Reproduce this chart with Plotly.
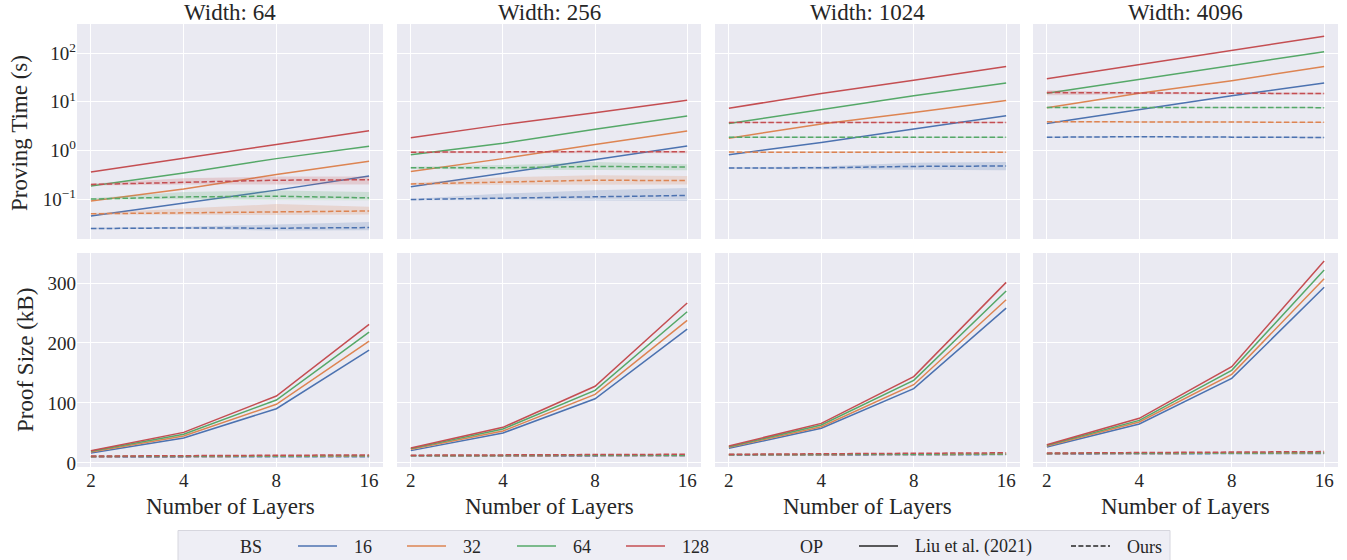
import math
import plotly.graph_objects as go

# ---------------- data ----------------
layers = [2, 4, 8, 16]
widths = [64, 256, 1024, 4096]
batch_sizes = [16, 32, 64, 128]
colors = {16: "#4C72B0", 32: "#DD8452", 64: "#55A868", 128: "#C44E52"}
legend_methods = ["Liu et al. (2021)", "Ours"]

# Proving time (s), Liu et al. (2021)
time_liu = {
    64:   {16: [0.045, 0.084, 0.153, 0.30], 32: [0.091, 0.162, 0.32, 0.60],
           64: [0.187, 0.344, 0.68, 1.22], 128: [0.36, 0.68, 1.33, 2.55]},
    256:  {16: [0.179, 0.344, 0.645, 1.24], 32: [0.37, 0.68, 1.33, 2.52],
           64: [0.82, 1.41, 2.72, 5.1], 128: [1.82, 3.4, 5.97, 10.8]},
    1024: {16: [0.82, 1.46, 2.77, 5.2], 32: [1.79, 3.5, 6.05, 10.6],
           64: [3.6, 7.0, 13.3, 24.4], 128: [7.4, 14.8, 27.7, 53.5]},
    4096: {16: [3.6, 6.9, 13.3, 24.4], 32: [7.55, 15.0, 27.0, 53.5],
           64: [15.0, 29.0, 56.0, 107.0], 128: [29.9, 58.7, 113.0, 224.0]},
}
# Proving time (s), Ours (mean)
time_ours = {
    64:   {16: [0.0248, 0.0256, 0.0252, 0.026], 32: [0.050, 0.0525, 0.056, 0.057],
           64: [0.100, 0.111, 0.115, 0.106], 128: [0.20, 0.225, 0.245, 0.25]},
    256:  {16: [0.098, 0.105, 0.111, 0.119], 32: [0.205, 0.222, 0.245, 0.24],
           64: [0.44, 0.44, 0.47, 0.455], 128: [0.92, 0.95, 0.95, 0.94]},
    1024: {16: [0.435, 0.44, 0.47, 0.48], 32: [0.925, 0.925, 0.925, 0.92],
           64: [1.87, 1.87, 1.87, 1.86], 128: [3.78, 3.8, 3.8, 3.78]},
    4096: {16: [1.87, 1.92, 1.88, 1.85], 32: [3.9, 3.85, 3.85, 3.8],
           64: [7.65, 7.6, 7.6, 7.6], 128: [15.5, 15.0, 15.0, 14.8]},
}
# Proving time (s), Ours: lower / upper of shaded band
time_ours_lo = {
    64:   {16: [0.0240, 0.0245, 0.0225, 0.023], 32: [0.048, 0.047, 0.047, 0.048],
           64: [0.097, 0.095, 0.095, 0.095], 128: [0.19, 0.20, 0.20, 0.20]},
    256:  {16: [0.095, 0.096, 0.095, 0.091], 32: [0.195, 0.20, 0.20, 0.20],
           64: [0.42, 0.40, 0.39, 0.39], 128: [0.88, 0.89, 0.89, 0.88]},
    1024: {16: [0.42, 0.42, 0.40, 0.39], 32: [0.90, 0.90, 0.90, 0.89],
           64: [1.81, 1.81, 1.81, 1.80], 128: [3.66, 3.68, 3.68, 3.66]},
    4096: {16: [1.81, 1.86, 1.82, 1.79], 32: [3.78, 3.73, 3.73, 3.68],
           64: [7.40, 7.37, 7.37, 7.37], 128: [13.7, 14.3, 14.3, 14.2]},
}
time_ours_hi = {
    64:   {16: [0.0258, 0.027, 0.030, 0.034], 32: [0.052, 0.064, 0.079, 0.070],
           64: [0.104, 0.14, 0.15, 0.14], 128: [0.21, 0.27, 0.29, 0.29]},
    256:  {16: [0.101, 0.13, 0.153, 0.17], 32: [0.215, 0.28, 0.31, 0.30],
           64: [0.46, 0.50, 0.58, 0.52], 128: [0.96, 1.0, 1.0, 1.0]},
    1024: {16: [0.45, 0.47, 0.56, 0.58], 32: [0.95, 0.95, 0.95, 0.95],
           64: [1.93, 1.93, 1.93, 1.92], 128: [3.90, 3.92, 3.92, 3.90]},
    4096: {16: [1.93, 1.98, 1.94, 1.91], 32: [4.02, 3.97, 3.97, 3.92],
           64: [7.90, 7.83, 7.83, 7.83], 128: [17.3, 15.7, 15.7, 15.4]},
}
# Proof size (kB)
size_liu = {
    64:   {16: [16.7, 41.7, 90.5, 188.0], 32: [18.3, 45.0, 97.8, 203.0],
           64: [19.4, 47.8, 105.0, 218.0], 128: [20.5, 51.0, 111.7, 231.0]},
    256:  {16: [20.6, 50.0, 107.0, 223.0], 32: [22.8, 53.3, 114.4, 237.8],
           64: [23.9, 56.7, 121.0, 252.0], 128: [25.0, 59.4, 127.8, 266.7]},
    1024: {16: [24.4, 57.8, 124.0, 258.0], 32: [26.0, 60.5, 130.5, 272.0],
           64: [27.2, 63.3, 137.8, 286.7], 128: [28.3, 66.0, 144.0, 301.0]},
    4096: {16: [26.7, 65.0, 141.0, 292.8], 32: [28.3, 68.3, 147.8, 307.0],
           64: [29.4, 71.0, 154.4, 321.7], 128: [30.5, 74.4, 160.5, 336.7]},
}
size_ours = {
    64:   {16: [10.0, 10.0, 10.5, 10.5], 32: [10.5, 11.0, 11.0, 11.5],
           64: [11.0, 11.5, 11.5, 12.0], 128: [11.5, 12.0, 12.5, 13.5]},
    256:  {16: [11.5, 12.0, 12.0, 12.0], 32: [12.0, 12.5, 12.5, 12.5],
           64: [12.5, 13.0, 13.0, 13.0], 128: [13.0, 13.5, 13.5, 14.5]},
    1024: {16: [13.0, 13.5, 13.5, 14.0], 32: [13.5, 14.0, 14.0, 14.5],
           64: [14.0, 14.5, 14.5, 15.0], 128: [14.5, 15.0, 15.5, 17.0]},
    4096: {16: [15.0, 15.5, 15.5, 16.0], 32: [15.5, 16.0, 16.0, 16.5],
           64: [16.0, 16.5, 16.5, 17.0], 128: [16.5, 17.0, 17.5, 19.0]},
}

# ---------------- style / layout ----------------
W, H = 1347, 560
FONT = "Liberation Serif"
TXT = "#262626"
BG = "#EAEAF2"
col_px = [(77, 383), (397, 701), (715, 1020), (1033, 1338)]
top_px = (24, 239)
bot_px = (253, 467)


def xdom(c):
    return [col_px[c][0] / W, col_px[c][1] / W]


def ydom(r):
    a, b = r
    return [1 - b / H, 1 - a / H]


def px(x):
    return x / W


def py(y):
    return 1 - y / H


def rgba(hexc, a):
    h = hexc.lstrip("#")
    return "rgba(%d,%d,%d,%s)" % (int(h[0:2], 16), int(h[2:4], 16), int(h[4:6], 16), a)


DASH = "5.5px,2.4px"
fig = go.Figure()

for c, w in enumerate(widths):
    xt = "x%d" % (c + 1) if c > 0 else "x"
    xb = "x%d" % (c + 5)
    yt = "y%d" % (c + 1) if c > 0 else "y"
    yb = "y%d" % (c + 5)
    for bs in batch_sizes:
        col = colors[bs]
        lo = time_ours_lo[w][bs]
        hi = time_ours_hi[w][bs]
        fig.add_trace(go.Scatter(
            x=layers + layers[::-1], y=hi + lo[::-1], xaxis=xt, yaxis=yt,
            fill="toself", fillcolor=rgba(col, 0.2), line=dict(width=0),
            mode="lines", showlegend=False, hoverinfo="skip"))
        fig.add_trace(go.Scatter(
            x=layers, y=time_liu[w][bs], xaxis=xt, yaxis=yt, mode="lines",
            line=dict(color=col, width=1.5), showlegend=False))
        fig.add_trace(go.Scatter(
            x=layers, y=time_ours[w][bs], xaxis=xt, yaxis=yt, mode="lines",
            line=dict(color=col, width=1.5, dash=DASH), showlegend=False))
        fig.add_trace(go.Scatter(
            x=layers, y=size_liu[w][bs], xaxis=xb, yaxis=yb, mode="lines",
            line=dict(color=col, width=1.5), showlegend=False))
        fig.add_trace(go.Scatter(
            x=layers, y=size_ours[w][bs], xaxis=xb, yaxis=yb, mode="lines",
            line=dict(color=col, width=1.5, dash=DASH), showlegend=False))

xrange_log = [0.85 * math.log10(2), 4.15 * math.log10(2)]
layout = dict(
    width=W, height=H,
    margin=dict(l=0, r=0, t=0, b=0),
    paper_bgcolor="white", plot_bgcolor=BG,
    font=dict(family=FONT, color=TXT, size=19),
    showlegend=False,
)

annotations = []
shapes = []
for c, w in enumerate(widths):
    sfx_t = "" if c == 0 else str(c + 1)
    sfx_b = str(c + 5)
    common_x = dict(type="log", range=xrange_log, tickvals=layers,
                    ticktext=[str(v) for v in layers], showgrid=True, gridcolor="white",
                    gridwidth=1, zeroline=False, showline=False, ticks="",
                    automargin=False)
    layout["xaxis" + sfx_t] = dict(common_x, domain=xdom(c), anchor="y" + sfx_t,
                                   showticklabels=False)
    layout["xaxis" + sfx_b] = dict(common_x, domain=xdom(c), anchor="y" + sfx_b,
                                   showticklabels=True, tickfont=dict(size=19))
    layout["yaxis" + sfx_t] = dict(type="log", range=[-1.82, 2.6], domain=ydom(top_px),
                                   anchor="x" + sfx_t, tickvals=[0.1, 1, 10, 100],
                                   ticktext=["10<sup>\u22121</sup>", "10<sup>0</sup>",
                                             "10<sup>1</sup>", "10<sup>2</sup>"],
                                   showticklabels=(c == 0), gridcolor="white", gridwidth=1,
                                   zeroline=False, showline=False, ticks="",
                                   tickfont=dict(size=19), automargin=False)
    layout["yaxis" + sfx_b] = dict(range=[-6.7, 350], domain=ydom(bot_px),
                                   anchor="x" + sfx_b, tickvals=[0, 100, 200, 300],
                                   showticklabels=(c == 0), gridcolor="white", gridwidth=1,
                                   zeroline=False, showline=False, ticks="",
                                   tickfont=dict(size=19), automargin=False)
    cx = (col_px[c][0] + col_px[c][1]) / 2 / W
    annotations.append(dict(text="Width: %d" % w, x=cx, y=py(12), xref="paper",
                            yref="paper", showarrow=False, xanchor="center",
                            yanchor="middle", font=dict(size=23, family=FONT, color=TXT)))
    annotations.append(dict(text="Number of Layers", x=cx, y=py(506), xref="paper",
                            yref="paper", showarrow=False, xanchor="center",
                            yanchor="middle", font=dict(size=23, family=FONT, color=TXT)))

annotations.append(dict(text="Proving Time (s)", x=px(19), y=py(133), xref="paper",
                        yref="paper", showarrow=False, textangle=-90, xanchor="center",
                        yanchor="middle", font=dict(size=23, family=FONT, color=TXT)))
annotations.append(dict(text="Proof Size (kB)", x=px(25), y=py(360), xref="paper",
                        yref="paper", showarrow=False, textangle=-90, xanchor="center",
                        yanchor="middle", font=dict(size=23, family=FONT, color=TXT)))

# ---- manual legend (bottom) ----
shapes.append(dict(type="rect", xref="paper", yref="paper", x0=px(178), x1=px(1170),
                   y0=py(575), y1=py(530.5), fillcolor="rgba(234,234,242,0.8)",
                   line=dict(color="#d6d6de", width=1), layer="above"))
LEG_Y = 546
LEG_TY = 546.5
leg_font = dict(size=18, family=FONT, color=TXT)
annotations.append(dict(text="BS", x=px(238), y=py(LEG_TY), xref="paper", yref="paper",
                        showarrow=False, xanchor="left", yanchor="middle", font=leg_font))
handle_x = [298, 407, 517, 626]
for i, bs in enumerate(batch_sizes):
    x0 = handle_x[i]
    shapes.append(dict(type="line", xref="paper", yref="paper", x0=px(x0), x1=px(x0 + 39),
                       y0=py(LEG_Y), y1=py(LEG_Y), line=dict(color=colors[bs], width=1.5),
                       layer="above"))
    annotations.append(dict(text=str(bs), x=px(x0 + 54), y=py(LEG_TY), xref="paper",
                            yref="paper", showarrow=False, xanchor="left",
                            yanchor="middle", font=leg_font))
annotations.append(dict(text="OP", x=px(798), y=py(LEG_TY), xref="paper", yref="paper",
                        showarrow=False, xanchor="left", yanchor="middle", font=leg_font))
method_handle_x = [859, 1071]
method_dash = ["solid", "5px,2.4px"]
for i, name in enumerate(legend_methods):
    x0 = method_handle_x[i]
    shapes.append(dict(type="line", xref="paper", yref="paper", x0=px(x0), x1=px(x0 + 39),
                       y0=py(LEG_Y), y1=py(LEG_Y),
                       line=dict(color="#262626", width=1.5, dash=method_dash[i]),
                       layer="above"))
    annotations.append(dict(text=name, x=px(x0 + 54), y=py(LEG_TY), xref="paper",
                            yref="paper", showarrow=False, xanchor="left",
                            yanchor="middle", font=leg_font))

layout["annotations"] = annotations
layout["shapes"] = shapes
fig.update_layout(**layout)

fig.write_html(
    "out.html",
    config={"displayModeBar": False},
    post_script="document.body.style.margin='0';document.body.style.overflow='hidden';",
)
